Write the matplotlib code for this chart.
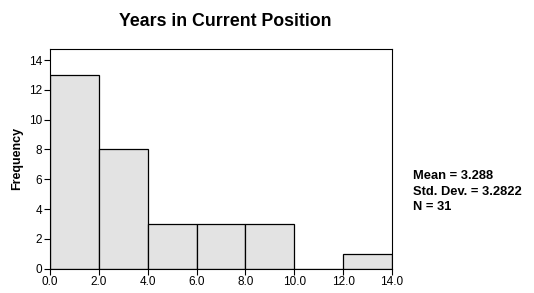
import matplotlib; matplotlib.use("Agg")
import matplotlib.pyplot as plt

plt.rcParams["font.family"] = ["Liberation Sans", "DejaVu Sans"]

bin_edges = [0, 2, 4, 6, 8, 10, 12, 14]
counts = [13, 8, 3, 3, 3, 0, 1]
xticks = [0, 2, 4, 6, 8, 10, 12, 14]
yticks = [0, 2, 4, 6, 8, 10, 12, 14]
stats = ["Mean = 3.288", "Std. Dev. = 3.2822", "N = 31"]

fig = plt.figure(figsize=(5.34, 2.93), dpi=100)
ax = fig.add_axes([0.0936, 0.083, 0.6404, 0.75])
lefts = bin_edges[:-1]
widths = [b - a for a, b in zip(bin_edges[:-1], bin_edges[1:])]
ax.bar(lefts, counts, width=widths, align="edge", color="#e3e3e3",
       edgecolor="black", linewidth=0.9)
ax.set_xlim(0, 14)
ax.set_ylim(0, 14.75)
ax.set_xticks(xticks)
ax.set_xticklabels([f"{v:.1f}" for v in xticks], fontsize=8.5)
ax.set_yticks(yticks)
ax.set_yticklabels([str(v) for v in yticks], fontsize=8.5)
ax.tick_params(direction="out", length=4, width=0.8, pad=1.5)
for s in ax.spines.values():
    s.set_linewidth(0.8)
ax.set_ylabel("Frequency", fontsize=9, fontweight="bold", labelpad=4)
fig.text(0.421, 0.928, "Years in Current Position", ha="center", va="center",
         fontsize=12.8, fontweight="bold")
fig.text(0.773, 0.346, "\n".join(stats), ha="left", va="center",
         fontsize=9.3, fontweight="bold", linespacing=1.35)
plt.savefig("out.png", dpi=100)
